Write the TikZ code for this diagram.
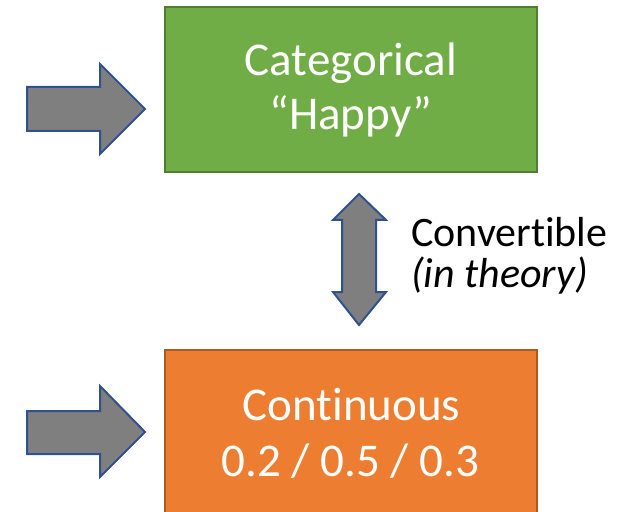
\documentclass[tikz,border=0pt]{standalone}
\usepackage{fontspec}
\setmainfont{Carlito}[Ligatures={NoCommon}]
\definecolor{boxgreen}{HTML}{70AD47}
\definecolor{boxgreenedge}{HTML}{507E32}
\definecolor{boxorange}{HTML}{ED7D31}
\definecolor{boxorangeedge}{HTML}{AE5A21}
\definecolor{arrowgray}{HTML}{7F7F7F}
\definecolor{arrowedge}{HTML}{2F528F}
\begin{document}
\begin{tikzpicture}[x=1bp,y=-1bp,
  blockarrow/.style={fill=arrowgray,draw=arrowedge,line width=2bp,line join=miter},
  greenbox/.style={draw=boxgreenedge,fill=boxgreen,line width=2.5bp,rectangle,inner sep=0pt},
  orangebox/.style={draw=boxorangeedge,fill=boxorange,line width=2.5bp,rectangle,inner sep=0pt},
  boxtext/.style={text=white,inner sep=0pt,anchor=base,font=\fontsize{47bp}{56bp}\selectfont},
  sidetext/.style={text=black,inner sep=0pt,anchor=base west,font=\fontsize{42bp}{40bp}\selectfont}]
\useasboundingbox (0,0) rectangle (639,512);
% boxes
\node[greenbox,minimum width=372bp,minimum height=165bp] (cat) at (351,89.5) {};
\node[orangebox,minimum width=372bp,minimum height=180bp] (cont) at (351,440) {};
% box texts
\node[boxtext] (catA) at (351,76) {Categorical};
\node[boxtext] (catB) at (351,130) {“Happy”};
\node[boxtext] (contA) at (351.5,420) {Continuous};
\node[boxtext] (contB) at (350.5,476) {0.2 / 0.5 / 0.3};
% side text
\node[sidetext] (convA) at (411,247) {Convertible};
\node[sidetext] (convB) at (411,287) {\itshape (in theory)};
% left arrows
\draw[blockarrow] (27,87) -- (100,87) -- (100,64) -- (145,109) -- (100,154) -- (100,131) -- (27,131) -- cycle;
\draw[blockarrow] (27,411) -- (100,411) -- (100,386) -- (145,432) -- (100,477) -- (100,454) -- (27,454) -- cycle;
% double arrow
\draw[blockarrow] (359,194) -- (386,220) -- (376,220) -- (376,292) -- (386,292) -- (359,325) -- (333,292) -- (342,292) -- (342,220) -- (333,220) -- cycle;
\end{tikzpicture}
\end{document}
